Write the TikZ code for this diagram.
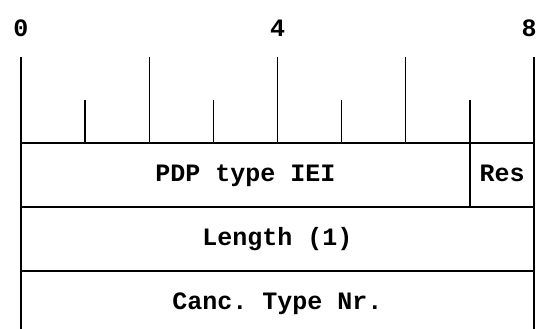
\documentclass[tikz,border=0pt]{standalone}
\usepackage{fontspec}
\setmonofont{Liberation Mono}
\usepackage{tikz}

\tikzset{
  field/.style={rectangle, draw, line width=1.3pt, inner sep=0pt, outer sep=0pt,
    minimum height=64pt, anchor=north west, text height=17pt, text depth=5pt,
    font=\ttfamily\bfseries\fontsize{25}{25}\selectfont},
  bitlabel/.style={font=\ttfamily\bfseries\fontsize{25}{25}\selectfont, inner sep=0pt}
}

\begin{document}
\begin{tikzpicture}[x=1pt, y=-1pt]
\useasboundingbox (0,0) rectangle (538,329);
% bit ruler
\foreach \i in {0,...,8} {
  \pgfmathsetmacro{\xpos}{21+64.125*\i}
  \ifodd\i
    \draw[line width=1.3pt] (\xpos,100) -- (\xpos,143);
  \else
    \draw[line width=1.3pt] (\xpos,57) -- (\xpos,143);
  \fi
}
\node[bitlabel] (b0) at (21,28) {0};
\node[bitlabel] (b4) at (277.5,28) {4};
\node[bitlabel] (b8) at (529,28) {8};
% octets
\node[field, minimum width=449pt] (pdp) at (21,143) {PDP type IEI};
\node[field, minimum width=64pt] (res) at (470,143) {Res};
\node[field, minimum width=513pt] (len) at (21,207) {Length (1)};
\node[field, minimum width=513pt] (canc) at (21,271) {Canc. Type Nr.};
\end{tikzpicture}
\end{document}
